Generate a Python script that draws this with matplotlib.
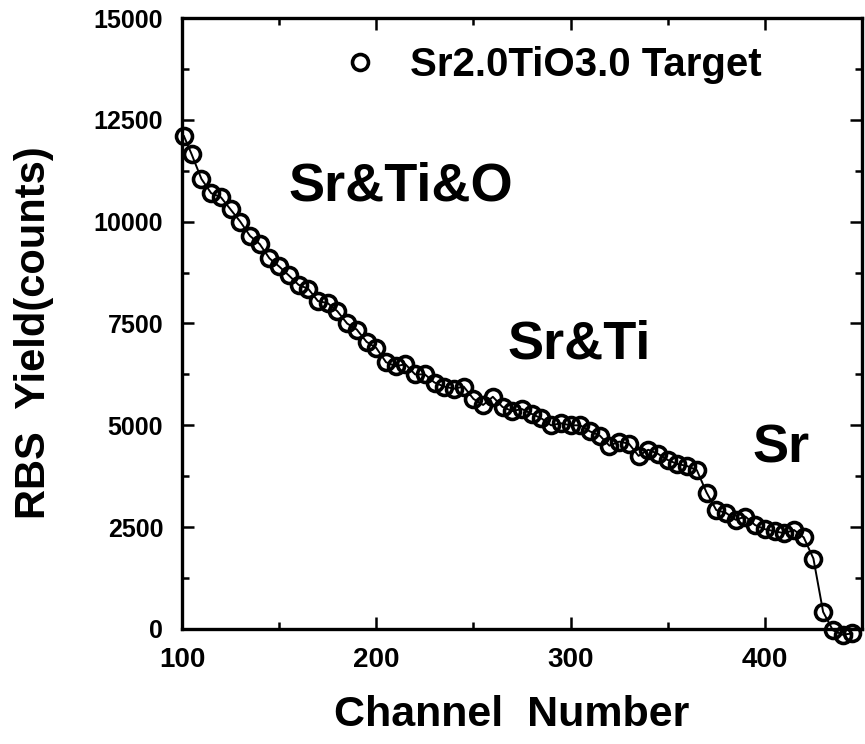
import matplotlib
matplotlib.use("Agg")
import matplotlib.pyplot as plt
from matplotlib.ticker import MultipleLocator

plt.rcParams['font.family'] = ['Liberation Sans', 'DejaVu Sans']
plt.rcParams['font.weight'] = 'bold'

# channel numbers and RBS yield
channel = [101, 105, 110, 115, 120, 125, 130, 135, 140, 145,
           150, 155, 160, 165, 170, 175, 180, 185, 190, 195,
           200, 205, 210, 215, 220, 225, 230, 235, 240, 245,
           250, 255, 260, 265, 270, 275, 280, 285, 290, 295,
           300, 305, 310, 315, 320, 325, 330, 335, 340, 345,
           350, 355, 360, 365, 370, 375, 380, 385, 390, 395,
           400, 405, 410, 415, 420, 425, 430, 435, 440, 445]
counts = [12100, 11650, 11050, 10700, 10600, 10300, 10000, 9650, 9450, 9100,
          8900, 8680, 8450, 8350, 8050, 8000, 7800, 7500, 7350, 7050,
          6900, 6550, 6450, 6500, 6250, 6250, 6050, 5950, 5900, 5950,
          5650, 5500, 5700, 5450, 5350, 5400, 5280, 5170, 5000, 5050,
          5000, 5000, 4850, 4750, 4500, 4600, 4550, 4250, 4400, 4300,
          4150, 4050, 4000, 3900, 3350, 2920, 2850, 2680, 2760, 2550,
          2450, 2400, 2350, 2430, 2250, 1730, 420, -30, -140, -110]

series_label = "Sr2.0TiO3.0 Target"
region_labels = ["Sr&Ti&O", "Sr&Ti", "Sr"]
region_pos = [(154.6, 10530), (267.3, 6650), (393.4, 4075)]

fig = plt.figure(figsize=(8.65, 7.44), dpi=100)
ax = fig.add_axes([0.2104, 0.1546, 0.7861, 0.8212])

ax.plot(channel, counts, '-', color='black', lw=1.4, clip_on=False)
ax.plot(channel, counts, 'o', ls='none', mfc='none', mec='black',
        ms=11.5, mew=2.6, label=series_label, clip_on=False)

ax.set_xlim(100, 450)
ax.set_ylim(0, 15000)
ax.xaxis.set_major_locator(MultipleLocator(100))
ax.xaxis.set_minor_locator(MultipleLocator(50))
ax.yaxis.set_major_locator(MultipleLocator(2500))
ax.yaxis.set_minor_locator(MultipleLocator(1250))

ax.tick_params(which='both', direction='in', top=True, right=True, width=1.8)
ax.tick_params(which='major', length=8.5)
ax.tick_params(which='minor', length=5)
ax.tick_params(axis='y', labelsize=18, pad=13.5)
ax.tick_params(axis='x', labelsize=20, pad=13)
for s in ax.spines.values():
    s.set_linewidth(2.4)

ax.set_xlabel("Channel  Number", fontsize=31, fontweight='bold')
ax.set_ylabel("RBS  Yield(counts)", fontsize=30, fontweight='bold')
ax.xaxis.set_label_coords(0.485, -0.108)
ax.yaxis.set_label_coords(-0.188, 0.485)

for txt, (px, py) in zip(region_labels, region_pos):
    ax.text(px, py, txt, fontsize=39, fontweight='bold', ha='left', va='baseline')

ax.legend(loc='center left', bbox_to_anchor=(0.232, 0.923), frameon=False,
          fontsize=29, handlelength=1.0, handletextpad=0.75,
          borderpad=0, borderaxespad=0)

fig.savefig("out.png", dpi=100)
